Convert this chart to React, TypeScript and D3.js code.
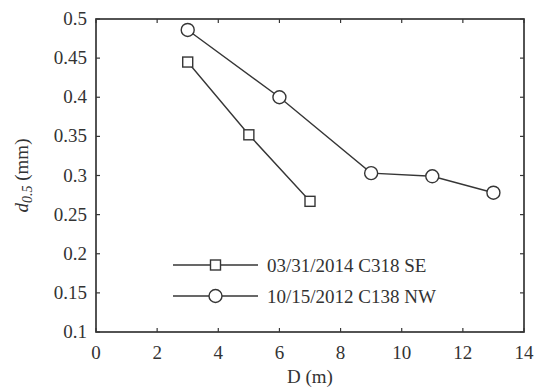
import React from "react";
import * as d3 from "d3";

const xTicks = [0, 2, 4, 6, 8, 10, 12, 14];
const yTicks = [0.1, 0.15, 0.2, 0.25, 0.3, 0.35, 0.4, 0.45, 0.5];

const seSeriesName = "03/31/2014 C318 SE";
const seD = [3, 5, 7];
const seVal = [0.445, 0.352, 0.267];

const nwSeriesName = "10/15/2012 C138 NW";
const nwD = [3, 6, 9, 11, 13];
const nwVal = [0.486, 0.4, 0.303, 0.299, 0.278];

const W = 537;
const H = 392;
const M = { left: 96, right: 13, top: 19, bottom: 60 };
const ink = "#363636";
const textInk = "#333";
const font = "'Liberation Serif', 'Times New Roman', serif";
const fs = 19;

export default function App() {
  const x = d3.scaleLinear().domain([0, 14]).range([M.left, W - M.right]);
  const y = d3.scaleLinear().domain([0.1, 0.5]).range([H - M.bottom, M.top]);
  const line = d3
    .line<[number, number]>()
    .x((d) => x(d[0]))
    .y((d) => y(d[1]));
  const se: [number, number][] = seD.map((d, i) => [d, seVal[i]]);
  const nw: [number, number][] = nwD.map((d, i) => [d, nwVal[i]]);
  const x0 = M.left;
  const x1 = W - M.right;
  const y0 = H - M.bottom;
  const y1 = M.top;
  const tl = 4;
  const sq = 5;
  const cr = 6.5;

  const legX0 = 173;
  const legX1 = 258;
  const legMid = (legX0 + legX1) / 2;
  const legRows = [
    { name: seSeriesName, y: 265, kind: "sq" },
    { name: nwSeriesName, y: 296, kind: "ci" },
  ];

  return (
    <svg
      width={W}
      height={H}
      style={{ position: "absolute", left: 0, top: 0, background: "#fff" }}
      fontFamily={font}
    >
      <rect x={0} y={0} width={W} height={H} fill="#fff" />
      {/* axes box */}
      <rect
        x={x0}
        y={y1}
        width={x1 - x0}
        height={y0 - y1}
        fill="none"
        stroke={ink}
        strokeWidth={1.7}
      />
      {xTicks.map((t) => (
        <g key={"x" + t}>
          <line x1={x(t)} x2={x(t)} y1={y0} y2={y0 - tl} stroke={ink} strokeWidth={1.2} />
          <line x1={x(t)} x2={x(t)} y1={y1} y2={y1 + tl} stroke={ink} strokeWidth={1.2} />
          <text x={x(t)} y={y0 + 27} textAnchor="middle" fontSize={fs} fill={textInk}>
            {t}
          </text>
        </g>
      ))}
      {yTicks.map((t) => (
        <g key={"y" + t}>
          <line x1={x0} x2={x0 + tl} y1={y(t)} y2={y(t)} stroke={ink} strokeWidth={1.2} />
          <line x1={x1} x2={x1 - tl} y1={y(t)} y2={y(t)} stroke={ink} strokeWidth={1.2} />
          <text x={x0 - 9} y={y(t) + 6} textAnchor="end" fontSize={fs} fill={textInk}>
            {String(t)}
          </text>
        </g>
      ))}
      <text x={(x0 + x1) / 2} y={H - 9} textAnchor="middle" fontSize={fs} fill={textInk}>
        D (m)
      </text>
      <text
        transform={`translate(28, ${(y0 + y1) / 2}) rotate(-90)`}
        textAnchor="middle"
        fontSize={fs}
        fill={textInk}
      >
        <tspan fontStyle="italic">d</tspan>
        <tspan fontStyle="italic" fontSize={14} dy={4}>
          0.5
        </tspan>
        <tspan dy={-4}> (mm)</tspan>
      </text>

      {/* series */}
      <path d={line(se) ?? ""} fill="none" stroke={ink} strokeWidth={1.4} />
      <path d={line(nw) ?? ""} fill="none" stroke={ink} strokeWidth={1.4} />
      {se.map((p, i) => (
        <rect
          key={"s" + i}
          x={x(p[0]) - sq}
          y={y(p[1]) - sq}
          width={sq * 2}
          height={sq * 2}
          fill="#fff"
          stroke={ink}
          strokeWidth={1.4}
        />
      ))}
      {nw.map((p, i) => (
        <circle
          key={"c" + i}
          cx={x(p[0])}
          cy={y(p[1])}
          r={cr}
          fill="#fff"
          stroke={ink}
          strokeWidth={1.4}
        />
      ))}

      {/* legend */}
      {legRows.map((r) => (
        <g key={r.name}>
          <line x1={legX0} x2={legX1} y1={r.y} y2={r.y} stroke={ink} strokeWidth={1.4} />
          {r.kind === "sq" ? (
            <rect
              x={legMid - sq}
              y={r.y - sq}
              width={sq * 2}
              height={sq * 2}
              fill="#fff"
              stroke={ink}
              strokeWidth={1.4}
            />
          ) : (
            <circle cx={legMid} cy={r.y} r={cr} fill="#fff" stroke={ink} strokeWidth={1.4} />
          )}
          <text x={267} y={r.y + 7} fontSize={fs} fill={textInk}>
            {r.name}
          </text>
        </g>
      ))}
    </svg>
  );
}
